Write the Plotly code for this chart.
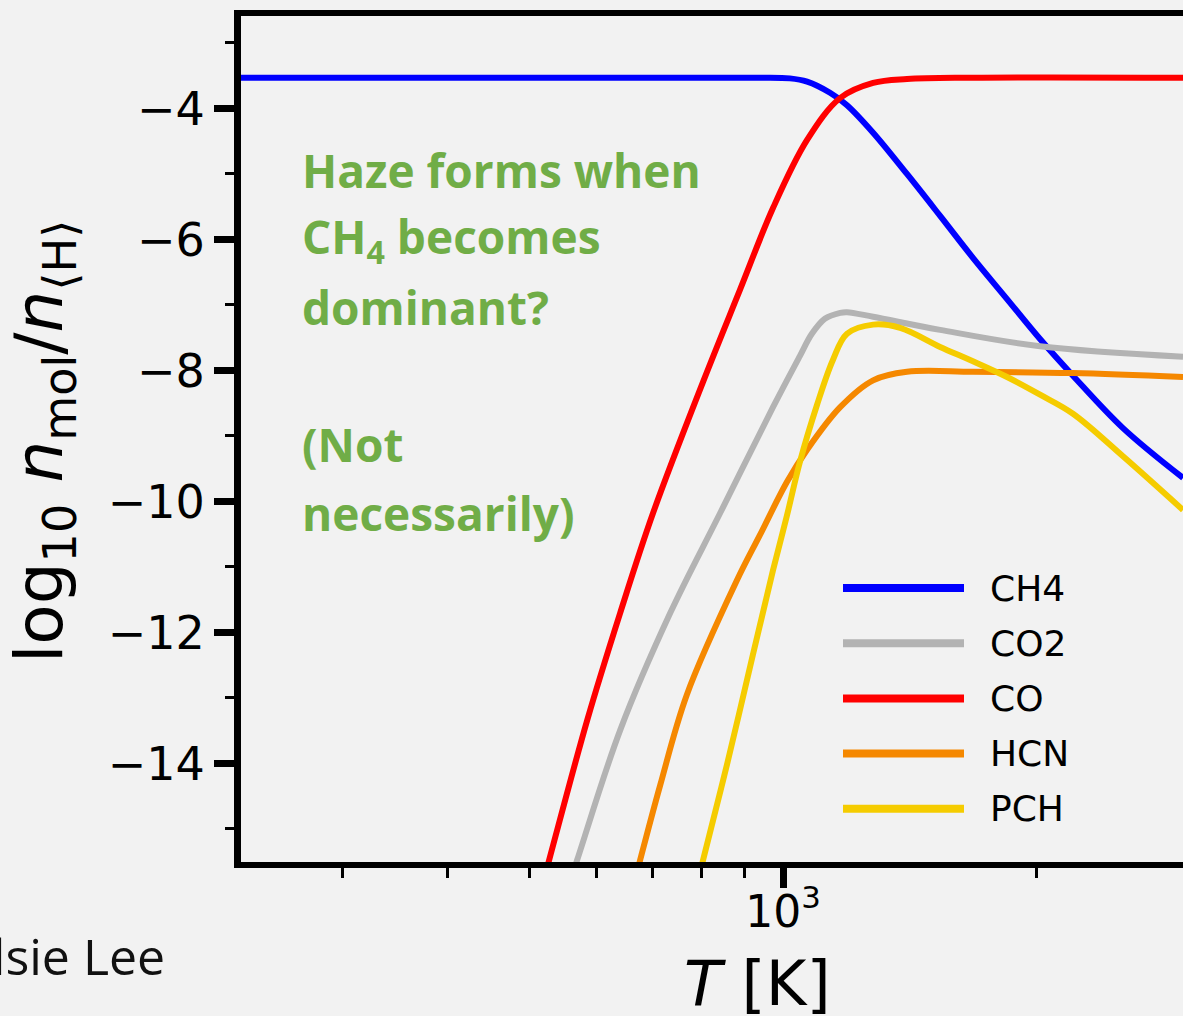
import math
import plotly.graph_objects as go

# ---------------- data ----------------
species = ["CH4", "CO2", "CO", "HCN", "PCH"]
colors = ["#0000ff", "#b3b3b3", "#ff0000", "#f58800", "#f5cc00"]

T_ch4 = [225, 500, 800, 939, 1019, 1068, 1137, 1191, 1279, 1403, 1536, 1680, 1844, 2018, 2208, 2531, 2982]
y_ch4 = [-3.53, -3.53, -3.53, -3.53, -3.54, -3.59, -3.76, -3.95, -4.37, -5.00, -5.64, -6.28, -6.91, -7.52, -8.08, -8.88, -9.64]

T_co2 = [540, 570, 641, 735, 842, 973, 1047, 1082, 1121, 1169, 1191, 1279, 1536, 2018, 2982]
y_co2 = [-16.4, -15.47, -13.49, -11.70, -10.18, -8.56, -7.78, -7.44, -7.21, -7.12, -7.11, -7.18, -7.38, -7.63, -7.79]

T_co = [500, 526, 586, 641, 701, 804, 889, 973, 1068, 1169, 1279, 1403, 1680, 2982]
y_co = [-16.6, -15.55, -13.33, -11.70, -10.18, -8.17, -6.77, -5.52, -4.48, -3.84, -3.61, -3.55, -3.53, -3.53]

T_hcn = [650, 677, 715, 769, 882, 939, 1011, 1068, 1169, 1279, 1403, 1680, 2208, 2982]
y_hcn = [-16.35, -15.47, -14.33, -12.95, -11.20, -10.51, -9.70, -9.21, -8.56, -8.15, -8.02, -8.02, -8.04, -8.10]

T_pch = [780, 804, 858, 921, 973, 1011, 1047, 1097, 1146, 1191, 1279, 1377, 1536, 1680, 1844, 2018, 2208, 2531, 2982]
y_pch = [-16.2, -15.47, -14.02, -12.34, -11.05, -10.21, -9.40, -8.53, -7.84, -7.44, -7.30, -7.35, -7.64, -7.86, -8.10, -8.37, -8.66, -9.31, -10.13]

series_T = [T_ch4, T_co2, T_co, T_hcn, T_pch]
series_y = [y_ch4, y_co2, y_co, y_hcn, y_pch]

x_major_vals = [1000]
x_major_text = ["10<sup>3</sup>"]
x_minor_vals = [300, 400, 500, 600, 700, 800, 900, 2000]
y_major_vals = [-4, -6, -8, -10, -12, -14]
y_major_text = ["\u22124", "\u22126", "\u22128", "\u221210", "\u221212", "\u221214"]
y_minor_vals = [-3, -5, -7, -9, -11, -13, -15]

note_lines = ["Haze forms when", "CH<sub>4</sub> becomes", "dominant?", "", "(Not", "necessarily)"]
credit = "Elsie Lee"

# ---------------- layout geometry ----------------
W, H = 1183, 1016
PL, PR, PT, PB = 241, 1183, 16, 862  # plot area in pixels


def px(xp):
    return (xp - PL) / (PR - PL)


def py(yp):
    return (PB - yp) / (PB - PT)


BG = "#f2f2f2"
GREEN = "#70ad47"
FONT = "DejaVu Sans"

fig = go.Figure()
for name, T, y, c in zip(species, series_T, series_y, colors):
    fig.add_trace(go.Scatter(
        x=T, y=y, mode="lines", name=name, showlegend=False,
        line=dict(color=c, width=6, shape="spline", smoothing=1.0),
        hoverinfo="skip",
    ))

fig.update_xaxes(
    type="log", range=[2.357, 3.4745],
    showline=True, linecolor="black", linewidth=6, mirror=True,
    showgrid=False, zeroline=False,
    ticks="outside", tickvals=x_major_vals, ticktext=x_major_text,
    ticklen=20, tickwidth=7, tickcolor="black",
    tickfont=dict(family=FONT, size=44, color="black"),
    ticklabelstandoff=-14,
    minor=dict(tickvals=x_minor_vals, ticks="outside", ticklen=10, tickwidth=3, tickcolor="black", showgrid=False),
)
fig.update_yaxes(
    range=[-15.504, -2.588],
    showline=True, linecolor="black", linewidth=7, mirror=False,
    showgrid=False, zeroline=False,
    ticks="outside", tickvals=y_major_vals, ticktext=y_major_text,
    ticklen=20, tickwidth=7, tickcolor="black",
    tickfont=dict(family=FONT, size=46, color="black"),
    ticklabelstandoff=0,
    minor=dict(tickvals=y_minor_vals, ticks="outside", ticklen=9, tickwidth=3, tickcolor="black", showgrid=False),
)

annotations = []
shapes = []

# axis titles
annotations.append(dict(
    xref="paper", yref="paper", x=px(44), y=py(442), xanchor="center", yanchor="middle",
    text="log<sub>10</sub> <i>n</i><sub>mol</sub>/<i>n</i><sub>\u27e8H\u27e9</sub>",
    textangle=-90, showarrow=False, font=dict(family=FONT, size=66, color="black"),
))
annotations.append(dict(
    xref="paper", yref="paper", x=px(757), y=py(983), xanchor="center", yanchor="middle",
    text="<i>T</i> [K]", showarrow=False, font=dict(family=FONT, size=62, color="black"),
))

# custom legend (long line samples)
leg_y0, leg_dy = 588, 55.2
for i, (name, c) in enumerate(zip(species, colors)):
    yy = py(leg_y0 + i * leg_dy)
    shapes.append(dict(type="line", xref="paper", yref="paper", x0=px(843), x1=px(964), y0=yy, y1=yy,
                       line=dict(color=c, width=8)))
    annotations.append(dict(xref="paper", yref="paper", x=px(988), y=yy, xanchor="left", yanchor="middle",
                            text=name, showarrow=False, font=dict(family=FONT, size=36, color="black")))

# green note
note_y0, note_dy = 170, 68.6
for i, line in enumerate(note_lines):
    if not line:
        continue
    annotations.append(dict(
        xref="paper", yref="paper", x=px(300), y=py(note_y0 + i * note_dy), xanchor="left", yanchor="middle",
        text="<b>" + line + "</b>", showarrow=False, font=dict(family="Open Sans", size=46, color=GREEN),
    ))

# credit text (partly cut by the left edge, as in the reference)
annotations.append(dict(
    xref="paper", yref="paper", x=px(167), y=py(956), xanchor="right", yanchor="middle",
    text=credit, showarrow=False, font=dict(family="Open Sans", size=50, color="#111111"),
))

fig.update_layout(
    width=W, height=H,
    margin=dict(l=PL, r=W - PR, t=PT, b=H - PB, pad=0),
    paper_bgcolor=BG, plot_bgcolor=BG,
    showlegend=False,
    annotations=annotations, shapes=shapes,
)

fig.write_html("out.html")
